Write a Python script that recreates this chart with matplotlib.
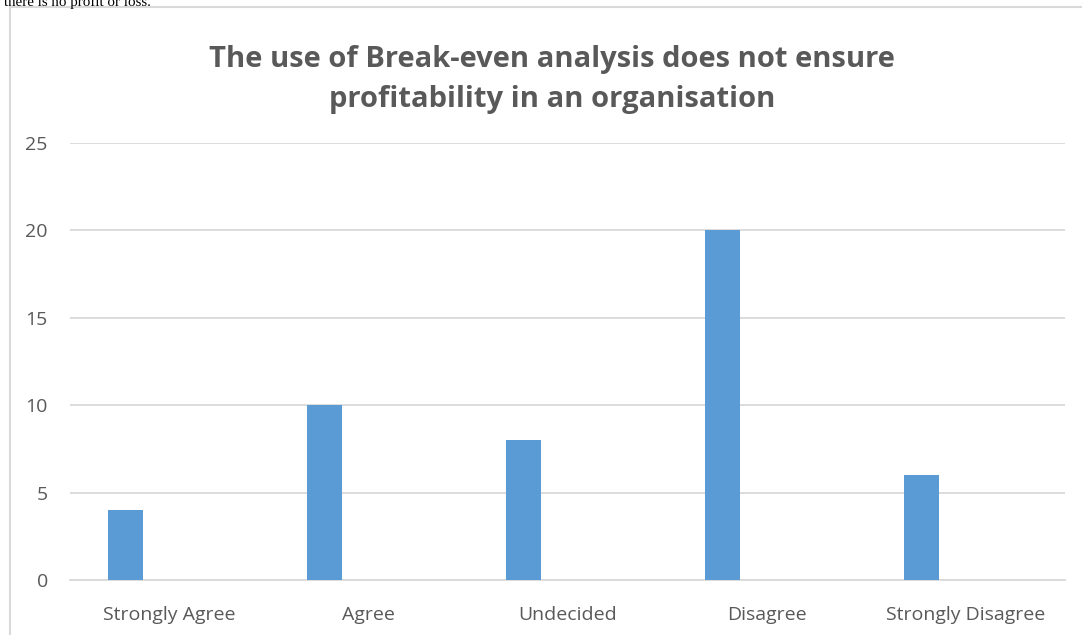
import matplotlib
matplotlib.use("Agg")
import matplotlib.pyplot as plt
from matplotlib.lines import Line2D

categories = ["Strongly Agree", "Agree", "Undecided", "Disagree", "Strongly Disagree"]
values = [4, 10, 8, 20, 6]
yticks = [0, 5, 10, 15, 20, 25]
title = "The use of Break-even analysis does not ensure\nprofitability in an organisation"

W, H = 1082, 635
fig = plt.figure(figsize=(W / 100, H / 100), dpi=100)
ax = fig.add_axes([70 / W, (H - 580) / H, (1065 - 70) / W, (580 - 143) / H])

grey = "#595959"
gridc = "#d9d9d9"
font = ["Open Sans", "DejaVu Sans"]

x = list(range(len(categories)))
ax.bar([i - 0.221 for i in x], values, width=0.176, color="#5B9BD5", zorder=3)

ax.set_xlim(-0.5, len(categories) - 0.5)
ax.set_ylim(0, 25)
ax.set_yticks(yticks)
ax.set_xticks(x)
ax.set_xticklabels(categories, family=font, fontsize=14, color=grey)
ax.set_yticklabels([str(t) for t in yticks], family=font, fontsize=14, color=grey)
ax.tick_params(axis="both", length=0)
ax.tick_params(axis="y", pad=16)
ax.tick_params(axis="x", pad=19)
ax.grid(axis="y", color=gridc, linewidth=1.3, zorder=0)
for s in ["top", "right", "left"]:
    ax.spines[s].set_visible(False)
ax.spines["bottom"].set_color(gridc)
ax.spines["bottom"].set_linewidth(1.3)

fig.text(552 / W, 1 - 80 / H, title, ha="center", va="center", family=font,
         fontsize=21, fontweight="bold", color=grey, linespacing=1.5)

# chart frame edges (left and top visible)
fig.add_artist(Line2D([10 / W, 10 / W], [0, 1 - 7 / H], color=gridc, linewidth=1.5,
                      transform=fig.transFigure))
fig.add_artist(Line2D([10 / W, 1], [1 - 7 / H, 1 - 7 / H], color=gridc, linewidth=1.5,
                      transform=fig.transFigure))

# cut-off document text above chart
fig.text(4 / W, 1 - 6 / H, "there is no profit or loss.", ha="left", va="baseline",
         family=["Liberation Serif", "DejaVu Serif"], fontsize=10.8, color="black")

fig.savefig("out.png", dpi=100)
